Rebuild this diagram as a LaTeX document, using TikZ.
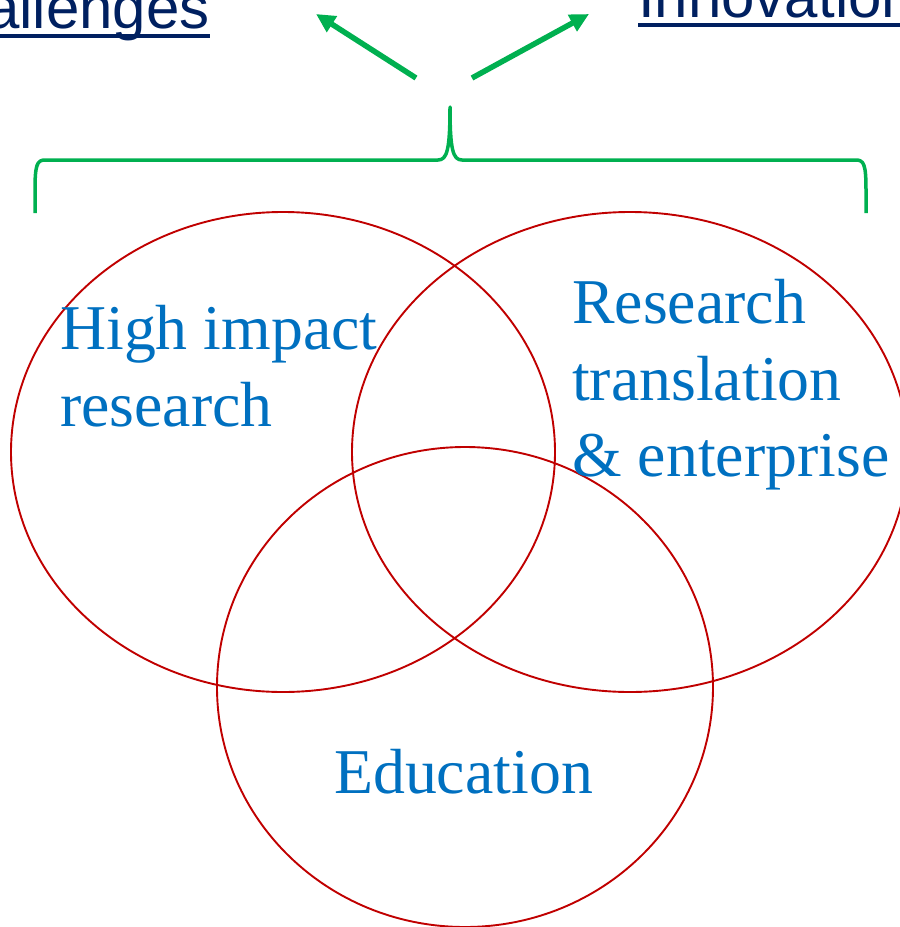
\documentclass[tikz,border=0pt]{standalone}
\usepackage{fontspec}
\setmainfont{Liberation Serif}
\newfontfamily\arialfont{Liberation Sans}
\usetikzlibrary{arrows.meta}
\definecolor{txtblue}{HTML}{0070C0}
\definecolor{navy}{HTML}{002060}
\definecolor{vred}{HTML}{C00000}
\definecolor{vgreen}{HTML}{00B050}
\tikzset{
  vcircle/.style={draw=vred, line width=1.9pt},
  label/.style={text=txtblue, inner sep=0pt, anchor=base west, font=\fontsize{63.8}{77}\selectfont},
  toptext/.style={text=navy, inner sep=0pt, font=\arialfont\fontsize{60}{72}\selectfont},
  uline/.style={draw=navy, line width=4.5pt},
  greenarrow/.style={draw=vgreen, line width=5.5pt, -{Triangle[length=19pt,width=18pt]}},
  bracestyle/.style={draw=vgreen, line width=3.5pt, line join=round}
}
\begin{document}
\begin{tikzpicture}[x=1pt,y=-1pt]
\useasboundingbox (0,0) rectangle (900,927);
\clip (0,0) rectangle (900,927);
% circles
\draw[vcircle] (283,452) ellipse [x radius=272, y radius=240];
\draw[vcircle] (630,452) ellipse [x radius=278, y radius=240];
\draw[vcircle] (465,687) ellipse [x radius=248, y radius=240];
% labels
\node[label] (hi1) at (60,349) {High impact};
\node[label] (hi2) at (60,426) {research};
\node[label] (rt1) at (572,323) {Research};
\node[label] (rt2) at (572,400) {translation};
\node[label] (rt3) at (572,476) {\& enterprise};
\node[label] (edu) at (334,793) {Education};
% top texts
\node[toptext, anchor=base east] (chal) at (210,28) {Challenges};
\node[toptext, anchor=base west] (inno) at (638,17) {Innovation};
\draw[uline] ([yshift=-8pt]chal.base west) -- ([yshift=-8pt]chal.base east);
\draw[uline] ([yshift=-8pt]inno.base west) -- ([yshift=-8pt]inno.base east);
% brace
\coordinate (bl) at (35,213);
\coordinate (bt) at (450,107);
\coordinate (br) at (866,213);
\draw[bracestyle] (bl) -- (35,190) .. controls (35,165) and (37,160) .. (45,160)
  -- (438,160) .. controls (447,160) and (450,150) .. (bt)
  .. controls (450,150) and (453,160) .. (462,160)
  -- (856,160) .. controls (864,160) and (866,165) .. (866,190) -- (br);
% arrows
\coordinate (las) at (416,78);
\coordinate (lae) at (316,14);
\coordinate (ras) at (472,78);
\coordinate (rae) at (589,14);
\draw[greenarrow] (las) -- (lae);
\draw[greenarrow] (ras) -- (rae);
\end{tikzpicture}
\end{document}
